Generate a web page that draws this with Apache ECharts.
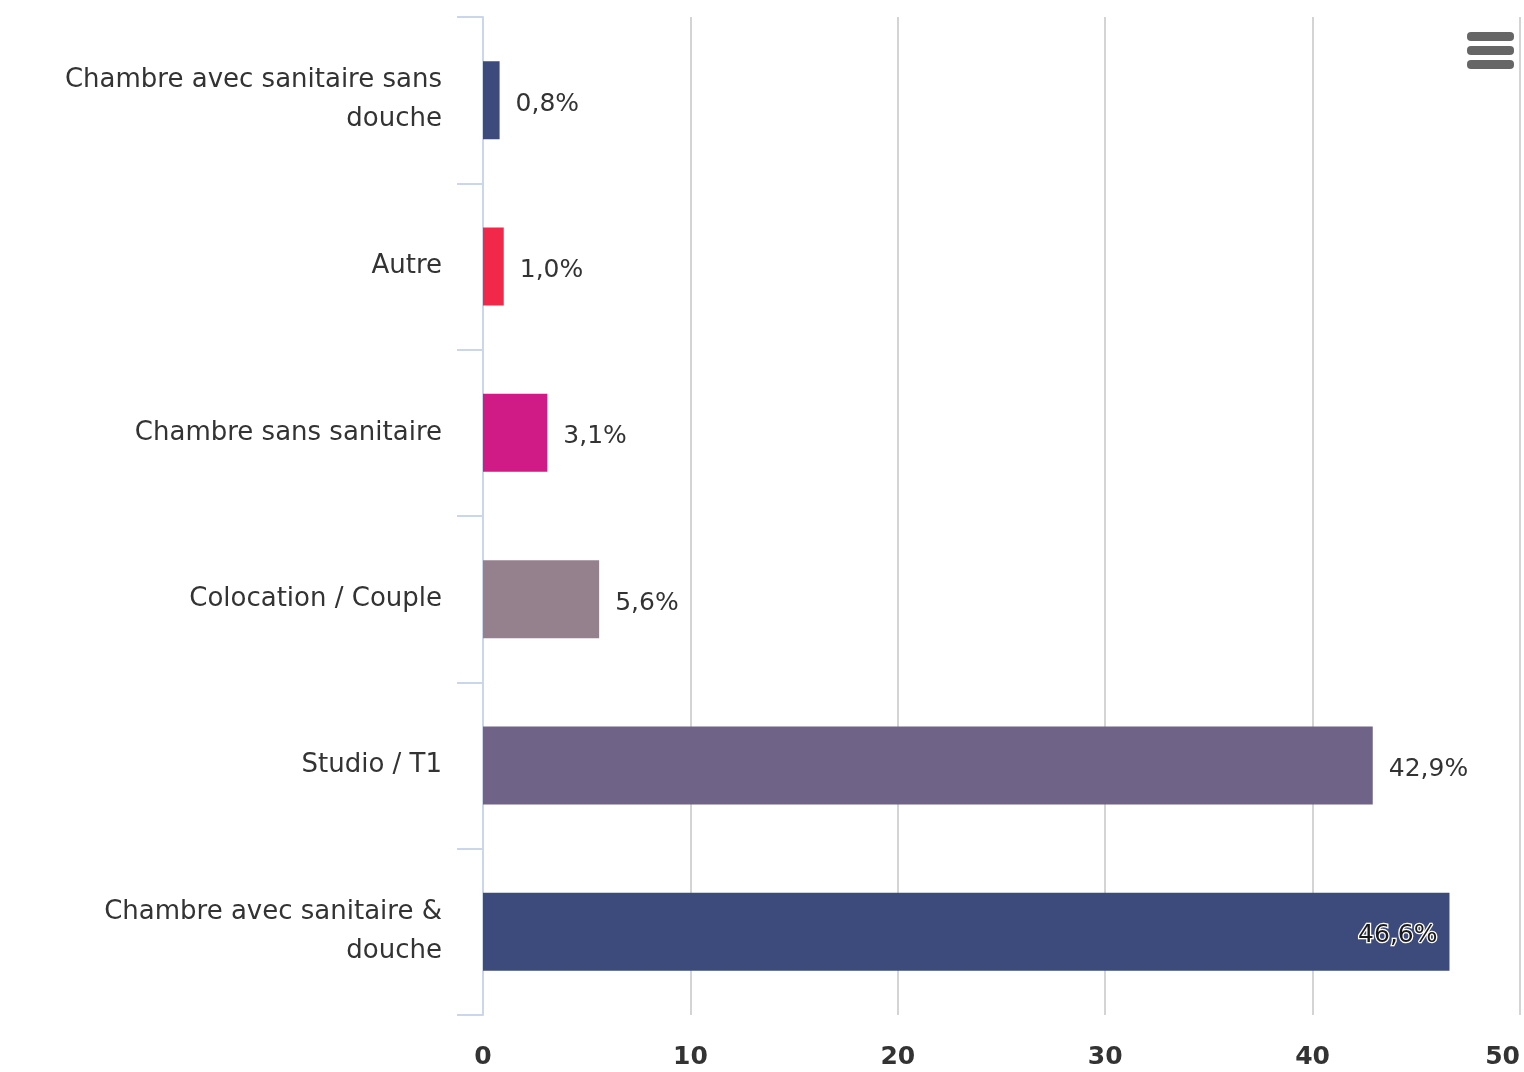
<!DOCTYPE html>
<html>
<head>
<meta charset="utf-8">
<script src="https://cdn.jsdelivr.net/npm/echarts@6/dist/echarts.min.js"></script>
<style>
  html, body { margin: 0; padding: 0; background: #fff; overflow: hidden; }
  #chart { width: 1524px; height: 1072px; }
</style>
</head>
<body>
<div id="chart"></div>
<script>
// Housing types, top to bottom
const categories = [
  'Chambre avec sanitaire sans douche',
  'Autre',
  'Chambre sans sanitaire',
  'Colocation / Couple',
  'Studio / T1',
  'Chambre avec sanitaire & douche'
];
// Share of respondents (%)
const shares = [0.8, 1.0, 3.1, 5.6, 42.9, 46.6];
const barColors = ['#3c4a7c', '#f2284b', '#d01a85', '#95818e', '#6f6387', '#3c4b7c'];
// Value axis ticks
const xTicks = [0, 10, 20, 30, 40, 50];

// Line breaks for the long category names
const wrapped = {
  'Chambre avec sanitaire sans douche': 'Chambre avec sanitaire sans\ndouche',
  'Chambre avec sanitaire & douche': 'Chambre avec sanitaire &\ndouche'
};

const FONT = '"DejaVu Sans", sans-serif';
const chart = echarts.init(document.getElementById('chart'), null, { renderer: 'canvas' });

const seriesData = shares.map((v, i) => {
  const item = { value: v, itemStyle: { color: barColors[i] } };
  if (v > 40 && i === shares.length - 1) {
    item.label = {
      position: 'insideRight',
      distance: 12,
      color: '#1a1a1a',
      textBorderColor: '#ffffff',
      textBorderWidth: 2.5
    };
  }
  return item;
});

chart.setOption({
  animation: false,
  grid: {
    left: 483, right: 4, top: 17, bottom: 57,
    containLabel: false,
    outerBoundsMode: 'none'
  },
  xAxis: {
    type: 'value',
    min: xTicks[0],
    max: xTicks[xTicks.length - 1],
    interval: xTicks[1] - xTicks[0],
    axisLine: { show: false },
    axisTick: { show: false },
    splitLine: { show: true, lineStyle: { color: '#d4d4d4', width: 2 } },
    axisLabel: {
      margin: 30,
      fontFamily: FONT,
      fontSize: 25,
      fontWeight: 'bold',
      color: '#333',
      alignMaxLabel: 'right'
    }
  },
  yAxis: {
    type: 'category',
    inverse: true,
    data: categories,
    axisLine: { show: true, lineStyle: { color: '#ccd6eb', width: 2 } },
    axisTick: { show: true, length: 26, lineStyle: { color: '#ccd6eb', width: 2 } },
    splitLine: { show: false },
    axisLabel: {
      margin: 41,
      fontFamily: FONT,
      fontSize: 26,
      lineHeight: 39,
      color: '#333',
      align: 'right',
      padding: [8, 0, 0, 0],
      formatter: (v) => wrapped[v] || v
    }
  },
  series: [{
    type: 'bar',
    data: seriesData,
    barWidth: 78,
    label: {
      show: true,
      position: 'right',
      distance: 16,
      offset: [0, 4],
      fontFamily: FONT,
      fontSize: 25,
      color: '#333',
      textBorderColor: '#ffffff',
      textBorderWidth: 1,
      formatter: (p) => p.value.toFixed(1).replace('.', ',') + '%'
    }
  }],
  graphic: [
    // context menu button
    { type: 'rect', left: 1467, top: 32, shape: { width: 47, height: 9, r: 4 }, style: { fill: '#666' } },
    { type: 'rect', left: 1467, top: 46, shape: { width: 47, height: 9, r: 4 }, style: { fill: '#666' } },
    { type: 'rect', left: 1467, top: 60, shape: { width: 47, height: 9, r: 4 }, style: { fill: '#666' } }
  ]
});
</script>
</body>
</html>
